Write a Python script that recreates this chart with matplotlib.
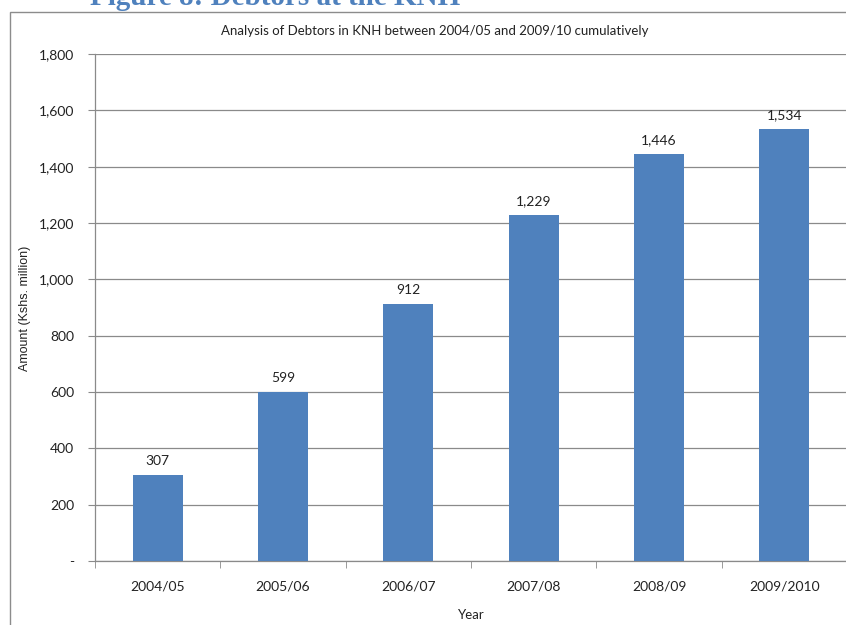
import matplotlib.pyplot as plt
from matplotlib.patches import Rectangle
from matplotlib.ticker import FuncFormatter, FixedLocator

# data
years = ["2004/05", "2005/06", "2006/07", "2007/08", "2008/09", "2009/2010"]
debtors = [307, 599, 912, 1229, 1446, 1534]
y_ticks = [0, 200, 400, 600, 800, 1000, 1200, 1400, 1600, 1800]

W, H = 846, 625
fig = plt.figure(figsize=(W / 100, H / 100), dpi=100)

# outer chart frame (cropped at right/bottom like the scan)
fig.patches.append(Rectangle((10 / W, -0.1), 1.2, 1 - 12 / H + 0.1,
                             transform=fig.transFigure, fill=False,
                             edgecolor="#8c8c8c", lw=1.0))

# document heading, cut off at the top
fig.text(90 / W, 1 - 5 / H, "Figure 8: Debtors at the KNH", color="#4F81BD",
         fontsize=21, fontweight="bold", family="Liberation Serif",
         ha="left", va="baseline")

ax = fig.add_axes([95 / W, 1 - 561 / H, 752 / W, 507 / H])
x = range(len(years))
bars = ax.bar(x, debtors, width=0.4, color="#4F81BD", zorder=3)

for b, v in zip(bars, debtors):
    ax.text(b.get_x() + b.get_width() / 2, v + 28, f"{v:,}", ha="center",
            va="bottom", fontsize=10, family="Lato", color="#222222")

ax.set_xlim(-0.5, len(years) - 0.5)
ax.set_ylim(0, 1800)
ax.set_yticks(y_ticks)
ax.yaxis.set_major_formatter(FuncFormatter(lambda v, p: "-" if v == 0 else f"{int(v):,}"))
ax.grid(axis="y", color="#8a8a8a", lw=0.9, zorder=0)

ax.set_xticks(list(x))
ax.set_xticklabels(years)
ax.xaxis.set_minor_locator(FixedLocator([i - 0.5 for i in range(len(years) + 1)]))
ax.tick_params(axis="x", which="major", length=0, pad=14)
ax.tick_params(axis="x", which="minor", length=5, color="#8a8a8a", direction="out")
ax.tick_params(axis="y", length=5, color="#8a8a8a", pad=10)
for lab in ax.get_xticklabels() + ax.get_yticklabels():
    lab.set_family("Lato")
    lab.set_fontsize(10)
    lab.set_color("#222222")

for s in ["top", "right"]:
    ax.spines[s].set_visible(False)
for s in ["left", "bottom"]:
    ax.spines[s].set_color("#8a8a8a")
    ax.spines[s].set_linewidth(0.9)

ax.set_title("Analysis of Debtors in KNH between 2004/05 and 2009/10 cumulatively",
             family="Lato", fontsize=9.5, color="#222222", x=(435 - 95) / 752, pad=14)
ax.set_xlabel("Year", family="Lato", fontsize=9.5, color="#222222", labelpad=12)
fig.text(25 / W, 1 - 308 / H, "Amount (Kshs. million)", rotation=90,
         ha="center", va="center", family="Liberation Sans", fontsize=9, color="#222222")

fig.savefig("out.png", dpi=100)
